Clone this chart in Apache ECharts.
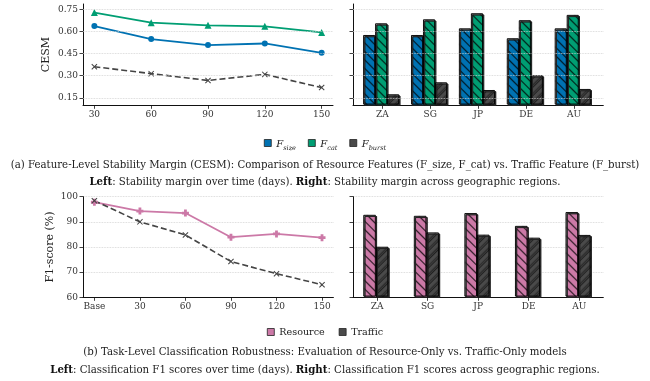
<!DOCTYPE html>
<html><head><meta charset="utf-8">
<script src="https://cdn.jsdelivr.net/npm/echarts@6/dist/echarts.min.js"></script>
<style>html,body{margin:0;padding:0;background:#fff}#c{width:650px;height:381px}</style>
</head><body><div id="c"></div>
<script>
// ---- data ----
const days = [30, 60, 90, 120, 150];
const fSize = [0.636, 0.548, 0.507, 0.518, 0.455];
const fCat = [0.727, 0.659, 0.641, 0.634, 0.593];
const fBurst = [0.361, 0.314, 0.268, 0.309, 0.220];
const regions = ['ZA', 'SG', 'JP', 'DE', 'AU'];
const regSize = [0.567, 0.567, 0.612, 0.545, 0.612];
const regCat = [0.646, 0.673, 0.714, 0.667, 0.703];
const regBurst = [0.166, 0.247, 0.195, 0.295, 0.202];
const cesmTicks = [0.15, 0.30, 0.45, 0.60, 0.75];

const timeLabels = ['Base', '30', '60', '90', '120', '150'];
const resTime = [97.8, 94.3, 93.5, 83.9, 85.2, 83.7];
const trafTime = [98.4, 90.0, 84.8, 74.2, 69.4, 65.0];
const resReg = [92.3, 91.9, 93.0, 87.9, 93.4];
const trafReg = [79.6, 85.3, 84.4, 83.2, 84.3];

// ---- styles ----
const FONT = 'DejaVu Serif';
const C_SIZE = '#0072B2', C_CAT = '#009E73', C_BURST = '#4a4a4a', C_RES = '#CC79A7';
const xMark = 'path://M0,1.2L1.2,0L5,3.8L8.8,0L10,1.2L6.2,5L10,8.8L8.8,10L5,6.2L1.2,10L0,8.8L3.8,5Z';
const plusMark = 'path://M3,0H7V3H10V7H7V10H3V7H0V3H3Z';
const hatch = (dir) => ({symbol:'rect', symbolSize:1, dashArrayX:[1,0], dashArrayY:[1,5], rotation: dir*Math.PI/4, color:'rgba(0,0,0,0.55)'});
const axisLineS = {show:true, onZero:false, lineStyle:{color:'#111', width:1}};
const tickS = {show:true, length:3.5, lineStyle:{color:'#111', width:0.8}};
const labS = {fontFamily:FONT, fontSize:9, color:'#333', margin:5};
const gridLine = {type:'dotted', color:'#cfcfcf', width:0.8};
const CAP = 10.2;

const chart = echarts.init(document.getElementById('c'), null, {renderer:'canvas'});

function gridSeries(xi, vals){
  return {type:'line', xAxisIndex:xi, yAxisIndex:xi, data:[], z:0, silent:true,
    markLine:{silent:true, symbol:['none','none'], label:{show:false}, animation:false,
      lineStyle:gridLine, emphasis:{disabled:true}, data: vals.map(v=>({yAxis:v}))}};
}
function barStyle(color, dir){
  return {color:color, borderColor:'#222', borderWidth:0.9, decal:hatch(dir),
    shadowColor:'rgba(0,0,0,0.22)', shadowBlur:0, shadowOffsetX:-1.2, shadowOffsetY:-1.2};
}

const option = {
  animation:false,
  backgroundColor:'#fff',
  textStyle:{fontFamily:FONT},
  title:[
    {text:'(a) Feature-Level Stability Margin (CESM): Comparison of Resource Features (F_size, F_cat) vs. Traffic Feature (F_burst)',
     left:'center', top:155, textStyle:{fontFamily:FONT, fontSize:CAP, fontWeight:'normal', color:'#222'}},
    {text:'{b|Left}: Stability margin over time (days). {b|Right}: Stability margin across geographic regions.',
     left:'center', top:172, textStyle:{fontFamily:FONT, fontSize:CAP, fontWeight:'normal', color:'#222',
       rich:{b:{fontFamily:FONT, fontSize:CAP, fontWeight:'bold', color:'#111'}}}},
    {text:'(b) Task-Level Classification Robustness: Evaluation of Resource-Only vs. Traffic-Only models',
     left:'center', top:342, textStyle:{fontFamily:FONT, fontSize:CAP, fontWeight:'normal', color:'#222'}},
    {text:'{b|Left}: Classification F1 scores over time (days). {b|Right}: Classification F1 scores across geographic regions.',
     left:'center', top:360, textStyle:{fontFamily:FONT, fontSize:CAP, fontWeight:'normal', color:'#222',
       rich:{b:{fontFamily:FONT, fontSize:CAP, fontWeight:'bold', color:'#111'}}}}
  ],
  legend:[
    {data:[{name:'F_size', itemStyle:{color:C_SIZE, decal:'none'}},{name:'F_cat', itemStyle:{color:C_CAT, decal:'none'}},{name:'F_burst', itemStyle:{color:C_BURST, decal:'none'}}],
     left:'center', top:134, icon:'rect', itemWidth:7, itemHeight:7, itemGap:12,
     itemStyle:{borderColor:'#222', borderWidth:0.8, shadowBlur:0, shadowOffsetX:0, shadowOffsetY:0},
     lineStyle:{width:0},
     formatter:(n)=>'{f|F}{s|'+n.slice(2)+'}',
     textStyle:{fontFamily:FONT, color:'#222', rich:{
       f:{fontFamily:FONT, fontStyle:'italic', fontSize:10, lineHeight:12, verticalAlign:'bottom'},
       s:{fontFamily:FONT, fontStyle:'italic', fontSize:6.5, lineHeight:10, verticalAlign:'bottom', padding:[0,0,-3,0]}}}},
    {data:[{name:'Resource', itemStyle:{color:C_RES, decal:'none'}},{name:'Traffic', itemStyle:{color:C_BURST, decal:'none'}}],
     left:'center', top:322, icon:'rect', itemWidth:7, itemHeight:7, itemGap:14,
     itemStyle:{borderColor:'#222', borderWidth:0.8, shadowBlur:0, shadowOffsetX:0, shadowOffsetY:0},
     lineStyle:{width:0},
     textStyle:{fontFamily:FONT, fontSize:9.6, color:'#222'}}
  ],
  grid:[
    {left:83, top:4, width:250, height:101.3},
    {left:353, top:4, width:250.3, height:101.3},
    {left:83, top:196.7, width:250.4, height:100.6},
    {left:353, top:196.7, width:250.3, height:100.6}
  ],
  xAxis:[
    {gridIndex:0, type:'value', min:24, max:156, axisLine:axisLineS,
     axisTick:Object.assign({customValues:days}, tickS),
     axisLabel:Object.assign({customValues:days}, labS), splitLine:{show:false}},
    {gridIndex:1, type:'value', min:-0.6125, max:4.6125, axisLine:axisLineS,
     axisTick:Object.assign({customValues:regions.map((r,i)=>i)}, tickS),
     axisLabel:Object.assign({customValues:regions.map((r,i)=>i), formatter:(v)=>regions[Math.round(v)]}, labS), splitLine:{show:false}},
    {gridIndex:2, type:'value', min:-0.25, max:5.25, axisLine:axisLineS,
     axisTick:Object.assign({customValues:timeLabels.map((r,i)=>i)}, tickS),
     axisLabel:Object.assign({customValues:timeLabels.map((r,i)=>i), formatter:(v)=>timeLabels[Math.round(v)]}, labS), splitLine:{show:false}},
    {gridIndex:3, type:'value', min:-0.475, max:4.475, axisLine:axisLineS,
     axisTick:Object.assign({customValues:regions.map((r,i)=>i)}, tickS),
     axisLabel:Object.assign({customValues:regions.map((r,i)=>i), formatter:(v)=>regions[Math.round(v)]}, labS), splitLine:{show:false}}
  ],
  yAxis:[
    {gridIndex:0, type:'value', min:0.1, max:0.785, axisLine:axisLineS,
     axisTick:Object.assign({customValues:cesmTicks}, tickS),
     axisLabel:Object.assign({customValues:cesmTicks, formatter:(v)=>v.toFixed(2)}, labS), splitLine:{show:false},
     name:'CESM', nameLocation:'middle', nameGap:31, nameTextStyle:{fontFamily:FONT, fontSize:11, color:'#222'}},
    {gridIndex:1, type:'value', min:0.1, max:0.785, axisLine:axisLineS,
     axisTick:Object.assign({customValues:cesmTicks}, tickS),
     axisLabel:{show:false, customValues:cesmTicks}, splitLine:{show:false}},
    {gridIndex:2, type:'value', min:60, max:100, interval:10, axisLine:axisLineS, axisTick:tickS,
     axisLabel:labS, splitLine:{show:true, lineStyle:gridLine},
     name:'F1-score (%)', nameLocation:'middle', nameGap:27, nameTextStyle:{fontFamily:FONT, fontSize:11, color:'#222'}},
    {gridIndex:3, type:'value', min:60, max:100, interval:10, axisLine:axisLineS, axisTick:tickS,
     axisLabel:{show:false}, splitLine:{show:true, lineStyle:gridLine}}
  ],
  series:[
    gridSeries(0, cesmTicks),
    gridSeries(1, cesmTicks),
    {name:'F_cat', type:'line', xAxisIndex:0, yAxisIndex:0, z:3,
     data:days.map((d,i)=>[d,fCat[i]]), symbol:'triangle', symbolSize:7,
     lineStyle:{color:C_CAT, width:1.8}, itemStyle:{color:C_CAT}},
    {name:'F_size', type:'line', xAxisIndex:0, yAxisIndex:0, z:3,
     data:days.map((d,i)=>[d,fSize[i]]), symbol:'circle', symbolSize:6,
     lineStyle:{color:C_SIZE, width:1.8}, itemStyle:{color:C_SIZE}},
    {name:'F_burst', type:'line', xAxisIndex:0, yAxisIndex:0, z:3,
     data:days.map((d,i)=>[d,fBurst[i]]), symbol:xMark, symbolSize:6,
     lineStyle:{color:'#444', width:1.6, type:[6,3]}, itemStyle:{color:'#444'}},
    {name:'F_size', type:'bar', xAxisIndex:1, yAxisIndex:1, z:2, barWidth:12, barGap:'0%',
     data:regions.map((r,i)=>[i,regSize[i]]), itemStyle:barStyle(C_SIZE,1)},
    {name:'F_cat', type:'bar', xAxisIndex:1, yAxisIndex:1, z:2, barWidth:12, barGap:'0%',
     data:regions.map((r,i)=>[i,regCat[i]]), itemStyle:barStyle(C_CAT,1)},
    {name:'F_burst', type:'bar', xAxisIndex:1, yAxisIndex:1, z:2, barWidth:12, barGap:'0%',
     data:regions.map((r,i)=>[i,regBurst[i]]), itemStyle:barStyle(C_BURST,-1)},
    {name:'Resource', type:'line', xAxisIndex:2, yAxisIndex:2, z:3,
     data:timeLabels.map((t,i)=>[i,resTime[i]]), symbol:plusMark, symbolSize:7,
     lineStyle:{color:C_RES, width:1.8}, itemStyle:{color:C_RES}},
    {name:'Traffic', type:'line', xAxisIndex:2, yAxisIndex:2, z:3,
     data:timeLabels.map((t,i)=>[i,trafTime[i]]), symbol:xMark, symbolSize:6,
     lineStyle:{color:'#444', width:1.6, type:[6,3]}, itemStyle:{color:'#444'}},
    {name:'Resource', type:'bar', xAxisIndex:3, yAxisIndex:3, z:2, barWidth:12.5, barGap:'0%',
     data:regions.map((r,i)=>[i,resReg[i]]), itemStyle:barStyle(C_RES,1)},
    {name:'Traffic', type:'bar', xAxisIndex:3, yAxisIndex:3, z:2, barWidth:12.5, barGap:'0%',
     data:regions.map((r,i)=>[i,trafReg[i]]), itemStyle:barStyle(C_BURST,-1)}
  ]
};
chart.setOption(option);
</script></body></html>
